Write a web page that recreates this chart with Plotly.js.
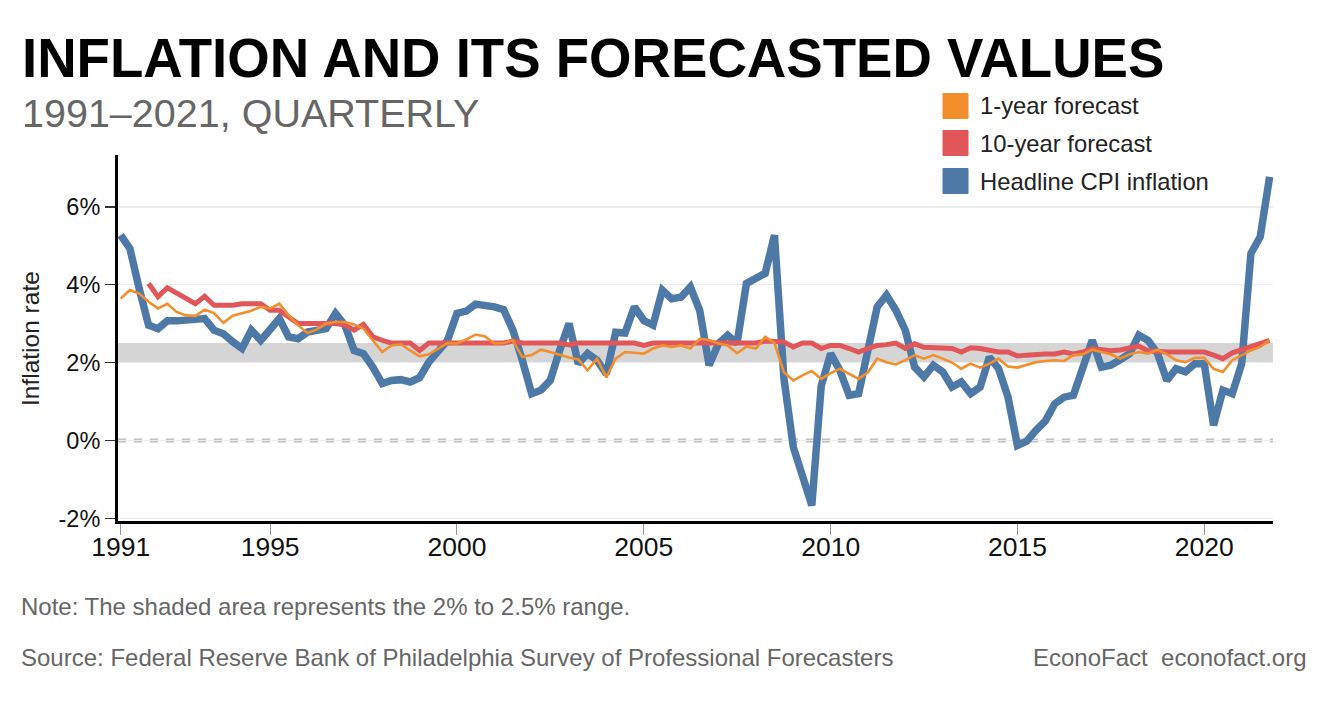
<!DOCTYPE html>
<html>
<head>
<meta charset="utf-8">
<script src="https://cdn.plot.ly/plotly-3.0.1.min.js"></script>
<style>
  html, body { margin: 0; padding: 0; background: #fff; }
  #chart { width: 1335px; height: 703px; }
</style>
</head>
<body>
<div id="chart"></div>
<script>
// ---------- DATA ----------
const startYear = 1991;            // first quarter: 1991 Q1, last: 2021 Q4
const tickYears = [1991, 1995, 2000, 2005, 2010, 2015, 2020];
const yTickValues = [-2, 0, 2, 4, 6];
const bandLow = 2.0;
const bandHigh = 2.5;

const seriesNames = ['1-year forecast', '10-year forecast', 'Headline CPI inflation'];
const seriesColors = ['#F28E2B', '#E15759', '#4E79A7'];

// Headline CPI inflation (%, year over year), quarterly 1991Q1-2021Q4
const cpiInflation = [
  5.27, 4.93, 3.90, 2.96, 2.87, 3.07, 3.07, 3.10, 3.13, 3.13,
  2.83, 2.74, 2.53, 2.36, 2.83, 2.57, 2.85, 3.13, 2.66, 2.61,
  2.78, 2.83, 2.87, 3.26, 2.96, 2.31, 2.23, 1.88, 1.46, 1.54,
  1.56, 1.50, 1.61, 2.01, 2.27, 2.57, 3.26, 3.32, 3.50, 3.47,
  3.43, 3.36, 2.83, 2.06, 1.20, 1.29, 1.54, 2.31, 3.00, 1.97,
  2.23, 2.06, 1.71, 2.78, 2.76, 3.43, 3.08, 2.96, 3.86, 3.64,
  3.68, 3.94, 3.34, 1.93, 2.49, 2.70, 2.49, 4.03, 4.16, 4.29,
  5.27, 1.60, -0.17, -0.94, -1.67, 1.40, 2.23, 1.80, 1.16, 1.20,
  2.30, 3.43, 3.73, 3.34, 2.83, 1.88, 1.63, 1.93, 1.76, 1.37,
  1.50, 1.20, 1.37, 2.14, 1.84, 1.11, -0.13, -0.02, 0.26, 0.50,
  0.94, 1.11, 1.16, 1.80, 2.57, 1.88, 1.93, 2.07, 2.23, 2.70,
  2.57, 2.23, 1.54, 1.84, 1.76, 1.97, 1.97, 0.39, 1.29, 1.20,
  1.97, 4.80, 5.23, 6.77
];

// SPF 1-year-ahead CPI inflation forecast (%)
const forecast1y = [
  3.64, 3.86, 3.77, 3.56, 3.39, 3.51, 3.30, 3.21, 3.20, 3.36,
  3.27, 3.02, 3.20, 3.27, 3.33, 3.43, 3.39, 3.51, 3.21, 2.96,
  2.76, 2.85, 3.00, 3.04, 3.04, 2.98, 2.87, 2.57, 2.27, 2.44,
  2.47, 2.31, 2.16, 2.21, 2.36, 2.50, 2.49, 2.59, 2.72, 2.67,
  2.49, 2.50, 2.57, 2.14, 2.19, 2.33, 2.27, 2.19, 2.13, 2.08,
  1.80, 2.10, 1.62, 2.10, 2.27, 2.25, 2.23, 2.36, 2.44, 2.40,
  2.44, 2.36, 2.61, 2.58, 2.49, 2.44, 2.24, 2.41, 2.36, 2.66,
  2.50, 1.75, 1.54, 1.67, 1.78, 1.58, 1.73, 1.84, 1.70, 1.58,
  1.75, 2.10, 2.01, 1.95, 2.06, 2.19, 2.10, 2.19, 2.10, 2.00,
  1.84, 1.97, 1.87, 1.97, 2.10, 1.90, 1.87, 1.93, 2.01, 2.04,
  2.06, 2.04, 2.19, 2.21, 2.33, 2.27, 2.21, 2.10, 2.21, 2.27,
  2.23, 2.33, 2.21, 2.06, 2.01, 2.12, 2.12, 1.84, 1.76, 2.06,
  2.19, 2.31, 2.40, 2.57
];

// SPF 10-year-ahead CPI inflation forecast (%), starts 1991Q4
const forecast10y = [
  null, null, null, 4.03, 3.69, 3.92, 3.79, 3.64, 3.51, 3.70,
  3.47, 3.47, 3.47, 3.51, 3.51, 3.51, 3.34, 3.34, 3.17, 3.00,
  3.00, 3.00, 3.00, 3.00, 2.96, 2.83, 2.98, 2.66, 2.57, 2.50,
  2.50, 2.50, 2.31, 2.50, 2.50, 2.50, 2.50, 2.50, 2.50, 2.50,
  2.50, 2.50, 2.55, 2.50, 2.50, 2.50, 2.50, 2.50, 2.45, 2.50,
  2.50, 2.50, 2.50, 2.50, 2.50, 2.50, 2.44, 2.50, 2.50, 2.50,
  2.50, 2.50, 2.50, 2.50, 2.50, 2.50, 2.50, 2.50, 2.50, 2.55,
  2.53, 2.53, 2.40, 2.50, 2.50, 2.36, 2.44, 2.44, 2.36, 2.27,
  2.36, 2.44, 2.46, 2.50, 2.36, 2.48, 2.39, 2.37, 2.37, 2.36,
  2.27, 2.38, 2.36, 2.30, 2.27, 2.27, 2.17, 2.19, 2.22, 2.22,
  2.22, 2.27, 2.22, 2.27, 2.36, 2.33, 2.30, 2.32, 2.36, 2.42,
  2.30, 2.27, 2.27, 2.27, 2.27, 2.27, 2.27, 2.19, 2.10, 2.25,
  2.33, 2.40, 2.48, 2.57
];

// ---------- BUILD ----------
function pad(n) { return (n < 10 ? '0' : '') + n; }
const quarterDates = cpiInflation.map((_, i) => {
  const y = startYear + Math.floor(i / 4);
  const m = 1 + 3 * (i % 4);
  return y + '-' + pad(m) + '-01';
});

const FONT = 'Liberation Sans, Arial, Helvetica, sans-serif';
const W = 1335, H = 703;
const M = { l: 118, r: 62, t: 155, b: 182 };
const plotW = W - M.l - M.r, plotH = H - M.t - M.b;
const px2x = p => (p - M.l) / plotW;
const px2y = p => (H - M.b - p) / plotH;

const traces = [
  { x: quarterDates, y: cpiInflation, name: seriesNames[2], type: 'scatter', mode: 'lines',
    line: { color: seriesColors[2], width: 7.5 }, showlegend: false },
  { x: quarterDates, y: forecast10y, name: seriesNames[1], type: 'scatter', mode: 'lines',
    line: { color: seriesColors[1], width: 5 }, showlegend: false, connectgaps: false },
  { x: quarterDates, y: forecast1y, name: seriesNames[0], type: 'scatter', mode: 'lines',
    line: { color: seriesColors[0], width: 2.6 }, showlegend: false }
];

const shapes = [
  { type: 'rect', xref: 'paper', x0: 0, x1: 1, yref: 'y', y0: bandLow, y1: bandHigh,
    fillcolor: '#d5d5d5', line: { width: 0 }, layer: 'below' },
  { type: 'line', xref: 'paper', x0: 0, x1: 1, yref: 'y', y0: 0, y1: 0,
    line: { color: '#c0c0c0', width: 4, dash: '8px,8px' }, layer: 'below' }
];

const annotations = [
  { text: 'INFLATION AND ITS FORECASTED VALUES', xref: 'paper', yref: 'paper',
    x: px2x(20), y: px2y(59), xanchor: 'left', yanchor: 'middle', showarrow: false,
    font: { family: FONT, size: 54.6, color: '#000', weight: 'bold' } },
  { text: '1991–2021, QUARTERLY', xref: 'paper', yref: 'paper',
    x: px2x(20), y: px2y(113), xanchor: 'left', yanchor: 'middle', showarrow: false,
    font: { family: FONT, size: 39.5, color: '#666' } },
  { text: 'Inflation rate', xref: 'paper', yref: 'paper', textangle: -90,
    x: px2x(30), y: px2y(338), xanchor: 'center', yanchor: 'middle', showarrow: false,
    font: { family: FONT, size: 24.5, color: '#222' } },
  { text: 'Note: The shaded area represents the 2% to 2.5% range.', xref: 'paper', yref: 'paper',
    x: px2x(19), y: px2y(606), xanchor: 'left', yanchor: 'middle', showarrow: false,
    font: { family: FONT, size: 24, color: '#666' } },
  { text: 'Source: Federal Reserve Bank of Philadelphia Survey of Professional Forecasters', xref: 'paper', yref: 'paper',
    x: px2x(19), y: px2y(657), xanchor: 'left', yanchor: 'middle', showarrow: false,
    font: { family: FONT, size: 24, color: '#666' } },
  { text: 'EconoFact&nbsp;&nbsp;econofact.org', xref: 'paper', yref: 'paper',
    x: px2x(1309), y: px2y(657), xanchor: 'right', yanchor: 'middle', showarrow: false,
    font: { family: FONT, size: 24, color: '#666' } }
];

// legend (square swatches + labels)
const legendRowsY = [106, 143, 181];
seriesNames.forEach((name, i) => {
  const cy = legendRowsY[i];
  shapes.push({ type: 'rect', xref: 'paper', yref: 'paper',
    x0: px2x(943), x1: px2x(968), y0: px2y(cy + 12.5), y1: px2y(cy - 12.5),
    fillcolor: seriesColors[i], line: { color: seriesColors[i], width: 1 } });
  annotations.push({ text: name, xref: 'paper', yref: 'paper',
    x: px2x(978), y: px2y(cy), xanchor: 'left', yanchor: 'middle', showarrow: false,
    font: { family: FONT, size: 23.8, color: '#222' } });
});

const layout = {
  width: W, height: H,
  margin: M,
  paper_bgcolor: '#fff', plot_bgcolor: '#fff',
  font: { family: FONT, color: '#222' },
  showlegend: false,
  xaxis: {
    type: 'date',
    range: ['1990-12-06', '2021-11-03'],
    tickvals: tickYears.map(y => y + '-01-01'),
    ticktext: tickYears.map(String),
    ticks: 'outside', ticklen: 11, tickwidth: 1, tickcolor: '#999',
    ticklabelstandoff: -11,
    showline: true, linecolor: '#000', linewidth: 3,
    showgrid: false, zeroline: false,
    tickfont: { family: FONT, size: 26.5, color: '#111' }
  },
  yaxis: {
    range: [-2.07, 7.33],
    tickvals: yTickValues,
    ticktext: yTickValues.map(v => v + '%'),
    ticks: 'outside', ticklen: 10, tickwidth: 1.5, tickcolor: '#333',
    showline: true, linecolor: '#000', linewidth: 3,
    showgrid: true, gridcolor: '#ececec', gridwidth: 1.5,
    zeroline: false,
    tickfont: { family: FONT, size: 23.5, color: '#111' }
  },
  shapes: shapes,
  annotations: annotations
};

Plotly.newPlot('chart', traces, layout, { displayModeBar: false, staticPlot: true });
</script>
</body>
</html>
